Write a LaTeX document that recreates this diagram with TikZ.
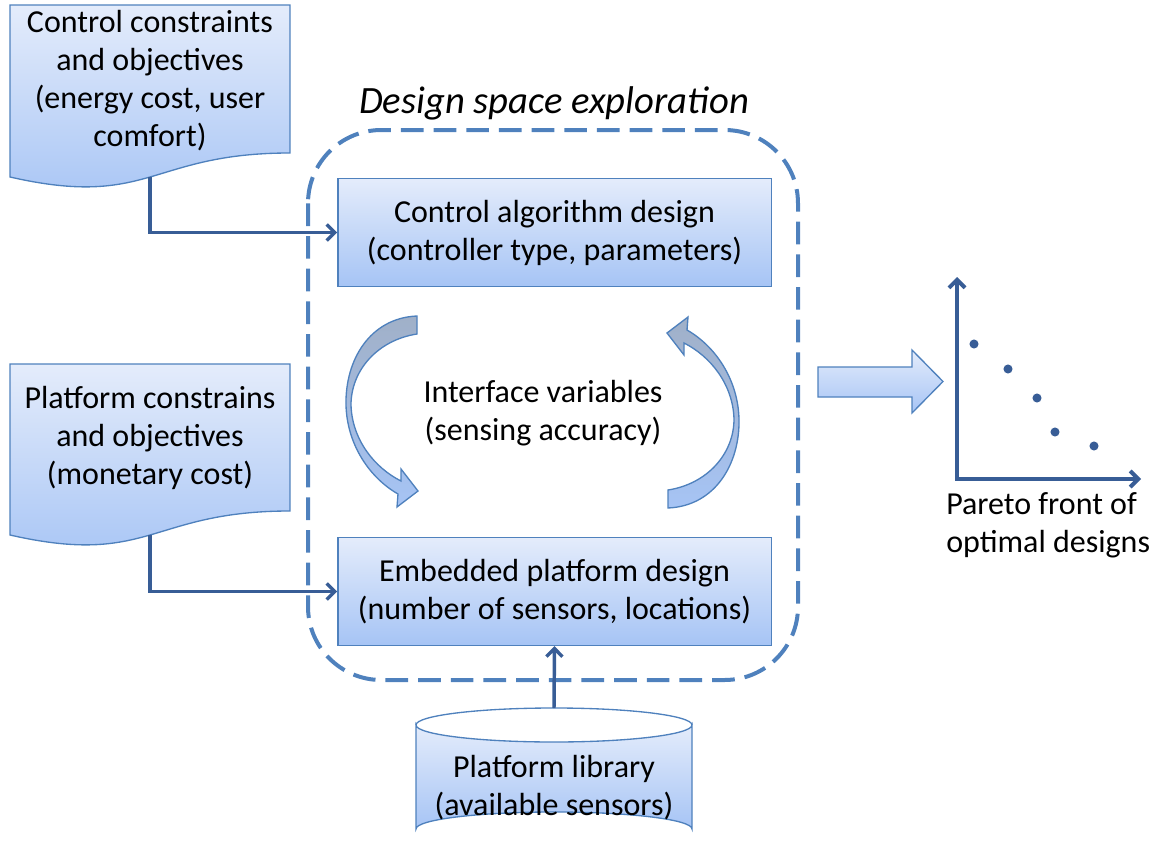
\documentclass[tikz,border=0pt]{standalone}
\usepackage{fontspec}
\setmainfont{Carlito}
\usetikzlibrary{arrows.meta}

\definecolor{edgeblue}{RGB}{79,129,189}
\definecolor{linkblue}{RGB}{56,93,150}
\definecolor{filltop}{RGB}{228,236,251}
\definecolor{fillbot}{RGB}{166,196,245}
\definecolor{backgrey}{RGB}{160,176,200}

\tikzset{
  shadefill/.style={draw=edgeblue, line width=1pt, top color=filltop, bottom color=fillbot},
  designbox/.style={shadefill, minimum width=325pt, minimum height=81pt, align=center},
  label/.style={align=center, inner sep=0pt},
  link/.style={draw=linkblue, line width=2.6pt, -{Straight Barb[length=6pt,width=12pt]}},
}

\begin{document}
\begin{tikzpicture}[x=0.75pt, y=-0.75pt, font=\fontsize{24}{28.5}\selectfont]
  \useasboundingbox (0,0) rectangle (1161,846);

  % documents on the left
  \draw[shadefill] (10,5) -- (290,5) -- (290,153)
    .. controls (150,153) and (150,209) .. (10,177) -- cycle;
  \node[label] (ctrlreq) at (150,81) {Control constraints\\and objectives\\(energy cost, user\\comfort)};
  \coordinate (ctrlout) at (150,177);

  \draw[shadefill] (10,364) -- (290,364) -- (290,511)
    .. controls (150,511) and (150,567) .. (10,535) -- cycle;
  \node[label] (platreq) at (150,438) {Platform constrains\\and objectives\\(monetary cost)};
  \coordinate (platout) at (150,535);

  % design space exploration
  \draw[edgeblue, line width=3pt, dash pattern=on 17pt off 7.5pt, rounded corners=55]
    (308,130) rectangle (798,680);
  \node[label, font=\fontsize{29}{34}\selectfont\itshape] (dse) at (554,103) {Design space exploration};

  \node[designbox] (ctrl) at (554.5,232.5) {Control algorithm design\\(controller type, parameters)};
  \node[designbox] (embed) at (554.5,591.5) {Embedded platform design\\(number of sensors, locations)};
  \node[label] (iface) at (543,413) {Interface variables\\(sensing accuracy)};

  % curved arrows
  \foreach \ang in {0,180} {
    \begin{scope}[rotate around={\ang:(542.5,412)}]
      \draw[edgeblue, line width=1pt, top color=backgrey, middle color=filltop!70!fillbot, bottom color=fillbot]
        (417,316) .. controls (370,318) and (345,360) .. (346,405)
        .. controls (347,445) and (370,478) .. (398,494)
        -- (397,507) -- (418,491) -- (401,469) -- (401,481)
        .. controls (375,468) and (352,440) .. (351,405)
        .. controls (351,370) and (378,340) .. (417,334) -- cycle;
    \end{scope}
  }

  % platform library
  \draw[shadefill] (416,725) -- (416,829) arc[start angle=180, end angle=360, x radius=138, y radius=17]
    -- (692,725) arc[start angle=0, end angle=180, x radius=138, y radius=17] -- cycle;
  \draw[edgeblue, line width=1pt] (416,725) arc[start angle=180, end angle=360, x radius=138, y radius=17];
  \node[label] (lib) at (554,788) {Platform library\\(available sensors)};
  \coordinate (libtop) at (554,708);

  % connections
  \draw[link] (ctrlout) |- (ctrl.west);
  \draw[link] (platout) |- (embed.west);
  \draw[link] (libtop) -- (embed.south);

  % result arrow
  \draw[shadefill] (818,367) -- (912,367) -- (912,350) -- (943,381.5) -- (912,413)
    -- (912,397) -- (818,397) -- cycle;

  % pareto plot
  \coordinate (origin) at (957,479);
  \coordinate (ymax) at (957,277);
  \coordinate (xmax) at (1141,479);
  \draw[link, line width=3pt, {Straight Barb[length=6pt,width=12pt]}-{Straight Barb[length=6pt,width=12pt]}]
    (ymax) -- (origin) -- (xmax);
  \foreach \px/\py in {974/344, 1008/369, 1037/398, 1055/432, 1094/446}
    \fill[linkblue] (\px,\py) circle (3.4pt);
  \node[label, align=left, anchor=west] (pareto) at (946,525.5) {Pareto front of\\optimal designs};
\end{tikzpicture}
\end{document}
